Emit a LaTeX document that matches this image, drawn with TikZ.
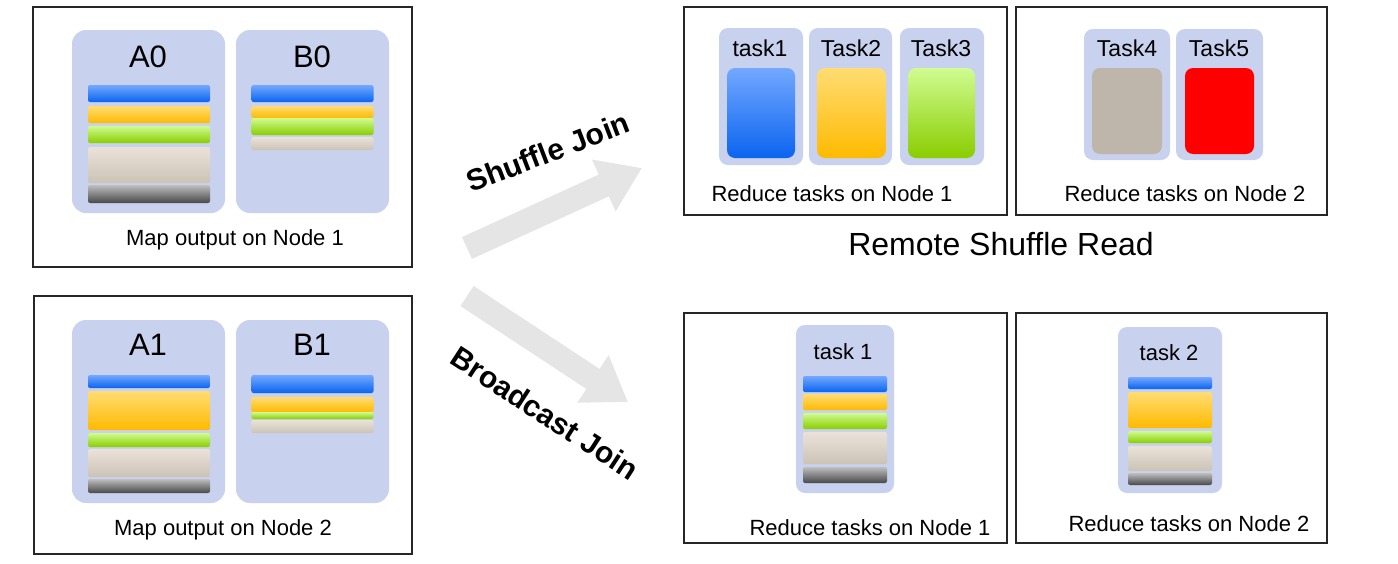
\documentclass[tikz,border=0pt]{standalone}
\usepackage{fontspec}
\setmainfont{Liberation Sans}
\usetikzlibrary{arrows.meta}
\definecolor{panelblue}{RGB}{200,209,237}
\definecolor{arrowgray}{RGB}{229,229,229}
\definecolor{taskgray}{RGB}{190,182,170}

\begin{document}
\begin{tikzpicture}[x=1pt, y=-1pt,
    every node/.style={inner sep=0pt, outer sep=0pt},
    nodebox/.style ={draw=black!85, line width=1.4pt},
    panel/.style ={fill=panelblue, rounded corners=14pt},
    taskpanel/.style ={fill=panelblue, rounded corners=9pt},
    stripe/.style ={rounded corners=2pt, minimum width=122pt},
    sblue/.style ={top color={rgb,255:red,115;green,168;blue,255}, bottom color={rgb,255:red,10;green,100;blue,240}},
    sorange/.style ={top color={rgb,255:red,255;green,220;blue,115}, bottom color={rgb,255:red,255;green,186;blue,0}},
    sgreen/.style ={top color={rgb,255:red,208;green,252;blue,145}, bottom color={rgb,255:red,138;green,205;blue,0}},
    sbeige/.style ={top color={rgb,255:red,234;green,226;blue,216}, bottom color={rgb,255:red,204;green,195;blue,183}},
    sdark/.style ={top color={rgb,255:red,190;green,190;blue,190}, bottom color={rgb,255:red,72;green,72;blue,72}},
    bigarrow/.style ={draw=arrowgray, line width=24pt, -{Triangle[width=54pt, length=42pt]}},
    big/.style ={font=\fontsize{31}{36}\selectfont},
    mid/.style ={font=\fontsize{23}{27}\selectfont},
    small/.style ={font=\fontsize{22}{26}\selectfont},
    joinlabel/.style ={font=\fontsize{30}{36}\selectfont\bfseries}]
   \useasboundingbox (0,0) rectangle (1398,563);

   % map output boxes
   \node[nodebox, minimum width=379pt, minimum height=260pt] (map1) at (222.5,137) {};
   \node[nodebox, minimum width=378pt, minimum height=258pt] (map2) at (223,425) {};
   \node[panel, minimum width=153pt, minimum height=183pt] (pA0) at (148.5,121.5) {};
   \node[panel, minimum width=153pt, minimum height=183pt] (pB0) at (312.5,121.5) {};
   \node[panel, minimum width=153pt, minimum height=183pt] (pA1) at (148.5,411.5) {};
   \node[panel, minimum width=153pt, minimum height=183pt] (pB1) at (312.5,411.5) {};
   \node[big] (A0) at (148,57) {A0};
   \node[big] (B0) at (312,57) {B0};
   \node[big] (A1) at (148,345) {A1};
   \node[big] (B1) at (312,345) {B1};

   \node[stripe, sblue, minimum height=17pt] (a0b) at (149,93.5) {};
   \node[stripe, sorange, minimum height=17pt] (a0o) at (149,114.5) {};
   \node[stripe, sgreen, minimum height=17pt] (a0g) at (149,134.5) {};
   \node[stripe, sbeige, minimum height=36pt] (a0e) at (149,165) {};
   \node[stripe, sdark, minimum height=18pt] (a0d) at (149,194) {};
   \node[stripe, sblue, minimum height=17pt] (b0b) at (312.5,93.5) {};
   \node[stripe, sorange, minimum height=12pt] (b0o) at (312.5,112) {};
   \node[stripe, sgreen, minimum height=17pt] (b0g) at (312.5,126.5) {};
   \node[stripe, sbeige, minimum height=13pt] (b0e) at (312.5,143.5) {};

   \node[stripe, sblue, minimum height=13pt] (a1b) at (149,381.5) {};
   \node[stripe, sorange, minimum height=39pt] (a1o) at (149,410.5) {};
   \node[stripe, sgreen, minimum height=14pt] (a1g) at (149,440) {};
   \node[stripe, sbeige, minimum height=28pt] (a1e) at (149,463) {};
   \node[stripe, sdark, minimum height=14pt] (a1d) at (149,486) {};
   \node[stripe, sblue, minimum height=18pt] (b1b) at (312.5,384) {};
   \node[stripe, sorange, minimum height=15pt] (b1o) at (312.5,404.5) {};
   \node[stripe, sgreen, minimum height=7pt] (b1g) at (312.5,415.5) {};
   \node[stripe, sbeige, minimum height=13pt] (b1e) at (312.5,426.5) {};

   \node[small] (lmap1) at (235,240) {Map output on Node 1};
   \node[small] (lmap2) at (223,530) {Map output on Node 2};

   % shuffle join
   \node[nodebox, minimum width=323pt, minimum height=208pt] (red1) at (845.5,111) {};
   \node[nodebox, minimum width=311pt, minimum height=208pt] (red2) at (1171.5,111) {};
   \node[taskpanel, minimum width=84pt, minimum height=137pt] (pt1) at (761,96.5) {};
   \node[taskpanel, minimum width=83pt, minimum height=137pt] (pt2) at (850.5,96.5) {};
   \node[taskpanel, minimum width=84pt, minimum height=137pt] (pt3) at (942,96.5) {};
   \node[taskpanel, minimum width=86pt, minimum height=131pt] (pt4) at (1127,94.5) {};
   \node[taskpanel, minimum width=87pt, minimum height=131pt] (pt5) at (1219.5,94.5) {};
   \node[sblue, rounded corners=8pt, minimum width=68pt, minimum height=90pt] (c1) at (761,113) {};
   \node[sorange, rounded corners=8pt, minimum width=69pt, minimum height=90pt] (c2) at (851.5,113) {};
   \node[sgreen, rounded corners=8pt, minimum width=67pt, minimum height=90pt] (c3) at (941.5,113) {};
   \node[fill=taskgray, rounded corners=8pt, minimum width=70pt, minimum height=86pt] (c4) at (1127,111) {};
   \node[fill=red, rounded corners=8pt, minimum width=69pt, minimum height=86pt] (c5) at (1219.5,111) {};
   \node[mid] (t1) at (760,48) {task1};
   \node[mid] (t2) at (851,48) {Task2};
   \node[mid] (t3) at (941,48) {Task3};
   \node[mid] (t4) at (1127,48) {Task4};
   \node[mid] (t5) at (1219,48) {Task5};
   \node[small] (lred1) at (832,194) {Reduce tasks on Node 1};
   \node[small] (lred2) at (1185,194) {Reduce tasks on Node 2};
   \node[font=\fontsize{32}{38}\selectfont] (remote) at (1001,244) {Remote Shuffle Read};

   % broadcast join
   \node[nodebox, minimum width=323pt, minimum height=230pt] (bc1) at (845.5,428) {};
   \node[nodebox, minimum width=311pt, minimum height=230pt] (bc2) at (1171.5,428) {};
   \node[taskpanel, minimum width=98pt, minimum height=168pt] (pb1) at (845,409) {};
   \node[taskpanel, minimum width=104pt, minimum height=166pt] (pb2) at (1170,410) {};
   \node[small] (tb1) at (843,352) {task 1};
   \node[small] (tb2) at (1169,353) {task 2};
   \node[stripe, sblue, minimum width=84pt, minimum height=16pt] (r1b) at (845,384) {};
   \node[stripe, sorange, minimum width=84pt, minimum height=16pt] (r1o) at (845,402) {};
   \node[stripe, sgreen, minimum width=84pt, minimum height=16pt] (r1g) at (845,421) {};
   \node[stripe, sbeige, minimum width=84pt, minimum height=32pt] (r1e) at (845,448) {};
   \node[stripe, sdark, minimum width=84pt, minimum height=16pt] (r1d) at (845,475) {};
   \node[stripe, sblue, minimum width=84pt, minimum height=12pt] (r2b) at (1170,383) {};
   \node[stripe, sorange, minimum width=84pt, minimum height=36pt] (r2o) at (1170,410) {};
   \node[stripe, sgreen, minimum width=84pt, minimum height=12pt] (r2g) at (1170,437) {};
   \node[stripe, sbeige, minimum width=84pt, minimum height=25pt] (r2e) at (1170,458.5) {};
   \node[stripe, sdark, minimum width=84pt, minimum height=12pt] (r2d) at (1170,479) {};
   \node[small] (lbc1) at (870,528) {Reduce tasks on Node 1};
   \node[small] (lbc2) at (1189,524) {Reduce tasks on Node 2};

   % arrows
   \coordinate (sjS) at (467,248);
   \coordinate (sjE) at (642,168);
   \coordinate (bjS) at (467,296);
   \coordinate (bjE) at (628,402);
   \draw[bigarrow] (sjS) -- (sjE);
   \draw[bigarrow] (bjS) -- (bjE);
   \node[joinlabel, rotate=21] (shuffle) at (548,152) {Shuffle Join};
   \node[joinlabel, rotate=-33] (bcast) at (545,413) {Broadcast Join};
 \end{tikzpicture}
\end{document}
